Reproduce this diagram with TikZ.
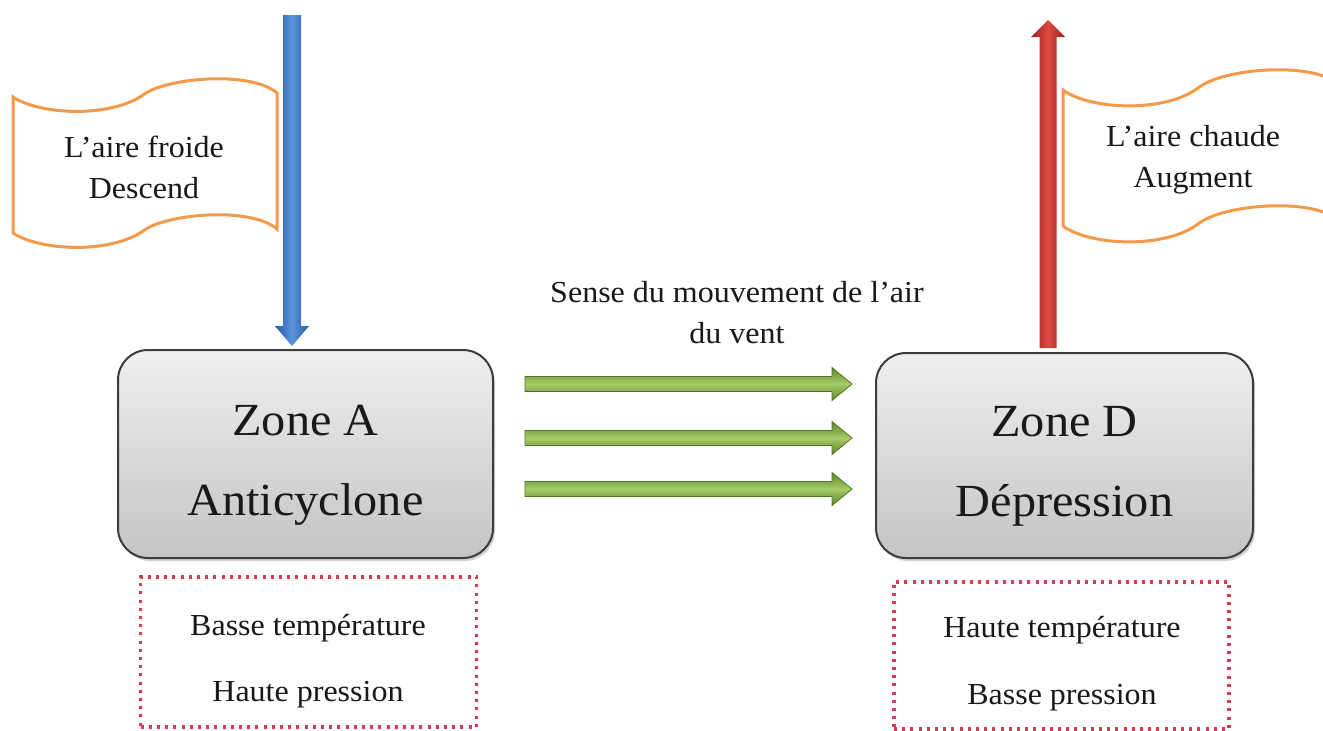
\documentclass[tikz,border=0pt]{standalone}
\usepackage{fontspec}
\setmainfont[FakeStretch=1.05]{Liberation Serif}
\usetikzlibrary{calc,shadows}
\definecolor{blueE}{HTML}{2659A3}
\definecolor{blueM}{HTML}{5A94DC}
\definecolor{redE}{HTML}{9A2020}
\definecolor{redM}{HTML}{DE4A44}
\definecolor{greenE}{HTML}{5A8727}
\definecolor{greenM}{HTML}{A6CC68}
\definecolor{flagC}{HTML}{F2994A}
\definecolor{dotC}{HTML}{D23C4E}
\definecolor{boxTop}{HTML}{EFEFEF}
\definecolor{boxBot}{HTML}{C4C4C4}
\definecolor{boxLine}{HTML}{3C3C3C}
\tikzset{
  zonebox/.style={draw=boxLine, line width=2pt, rounded corners=30pt,
    top color=boxTop, bottom color=boxBot,
    drop shadow={opacity=0.35, shadow xshift=2pt, shadow yshift=-3pt},
    inner sep=0pt},
  zonetext/.style={font=\fontsize{46}{80}\selectfont, align=center, text=black!90},
  infobox/.style={draw=dotC, line width=3.2pt, dash pattern=on 3pt off 5.2pt,
    inner sep=0pt},
  flagshape/.style={draw=flagC, line width=3pt, fill=white},
  smalltext/.style={font=\fontsize{30.5}{41}\selectfont, align=center, text=black!90},
  greenarrow/.style={top color=greenE, bottom color=greenE, middle color=greenM,
    draw=greenE!90!black, line width=0.8pt},
}
\begin{document}
\begin{tikzpicture}[x=1pt,y=-1pt]
\useasboundingbox[fill=white] (0,0) rectangle (1323,731);

% zone boxes
\node[zonebox, minimum width=375pt, minimum height=208pt] (A) at (305.5,454) {};
\node[zonetext] (At) at ($(A.center)+(0,11)$) {Zone A\\Anticyclone};
\node[zonebox, minimum width=377pt, minimum height=205pt] (D) at (1064.5,455.5) {};
\node[zonetext] (Dt) at ($(D.center)+(0,11)$) {Zone D\\Dépression};

% info boxes
\node[infobox, minimum width=336pt, minimum height=150pt] (iA) at (308.5,652) {};
\node[infobox, minimum width=335pt, minimum height=147pt] (iD) at (1061.5,655.5) {};
\node[smalltext] (iA1) at (308,628) {Basse température};
\node[smalltext] (iA2) at (308,695) {Haute pression};
\node[smalltext] (iD1) at (1062,630) {Haute température};
\node[smalltext] (iD2) at (1062,698) {Basse pression};

% left flag
\draw[flagshape] (13,97) .. controls (40,115) and (110,118) .. (143,95)
  .. controls (165,78) and (250,70) .. (277,93) -- (277,229)
  .. controls (250,206) and (165,214) .. (143,231)
  .. controls (110,254) and (40,251) .. (13,233) -- cycle;
\node[smalltext] (fL) at (144,167) {L’aire froide\\Descend};

% right flag
\begin{scope}[shift={(1050,-7)}]
\draw[flagshape] (13,97) .. controls (40,117) and (115,120) .. (148,95)
  .. controls (172,76) and (250,70) .. (280,86) -- (280,222)
  .. controls (250,206) and (172,212) .. (148,231)
  .. controls (115,256) and (40,253) .. (13,233) -- cycle;
\end{scope}
\node[smalltext] (fD) at (1193,160) {L’aire chaude\\Augment};

% blue arrow (descending)
\coordinate (btop) at (292,15);
\coordinate (btip) at ($(A.north -| btop)+(0,-3)$);
\shade[left color=blueE, right color=blueE, middle color=blueM]
  ($(btop)+(-9,0)$) -- ($(btip)+(-9,-20)$) -- ($(btip)+(-17,-20)$) -- (btip)
  -- ($(btip)+(17,-20)$) -- ($(btip)+(9,-20)$) -- ($(btop)+(9,0)$) -- cycle;

% red arrow (rising)
\coordinate (rtop) at (1048,20);
\coordinate (rbot) at ($(D.north -| rtop)+(0,-4)$);
\shade[left color=redE, right color=redE, middle color=redM]
  ($(rbot)+(-8.5,0)$) -- ($(rtop)+(-8.5,17)$) -- ($(rtop)+(-17,17)$) -- (rtop)
  -- ($(rtop)+(17,17)$) -- ($(rtop)+(8.5,17)$) -- ($(rbot)+(8.5,0)$) -- cycle;

% wind label
\node[smalltext] (wind) at (737,313) {Sense du mouvement de l’air\\du vent};

% green arrows
\foreach \i/\y in {1/384,2/438,3/489}{
  \coordinate (gs\i) at (525,\y);
  \coordinate (ge\i) at (852,\y);
  \path[greenarrow]
    ($(gs\i)+(0,-7.5)$) -- ($(ge\i)+(-20,-7.5)$) -- ($(ge\i)+(-20,-16.5)$) -- (ge\i)
    -- ($(ge\i)+(-20,16.5)$) -- ($(ge\i)+(-20,7.5)$) -- ($(gs\i)+(0,7.5)$) -- cycle;
}
\end{tikzpicture}
\end{document}
